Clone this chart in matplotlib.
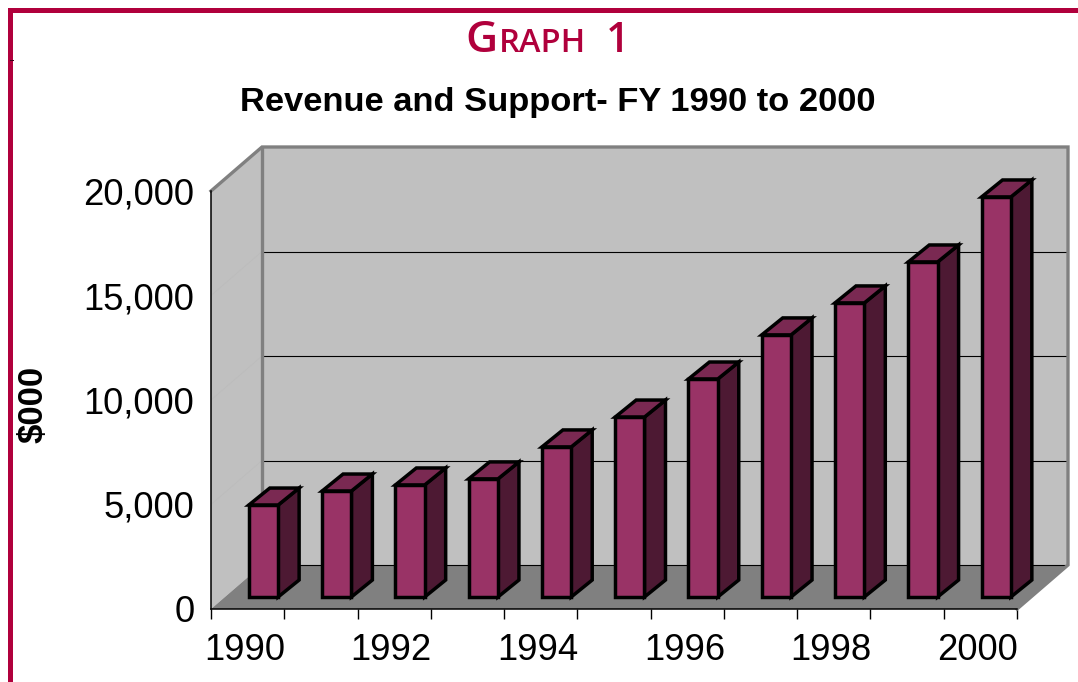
import matplotlib
matplotlib.use("Agg")
import matplotlib.pyplot as plt
from matplotlib.patches import Rectangle
from matplotlib.transforms import IdentityTransform

plt.rcParams['font.family'] = ['Liberation Sans', 'DejaVu Sans']

years = [1990, 1991, 1992, 1993, 1994, 1995, 1996, 1997, 1998, 1999, 2000]
revenue = [4400, 5070, 5360, 5650, 7180, 8610, 10430, 12540, 14070, 16030, 19140]
y_ticks = [0, 5000, 10000, 15000, 20000]

W, H = 1078, 682
CRIMSON = "#b0003c"
WALL = "#c0c0c0"
FLOOR = "#808080"
FRONT = "#993366"
SIDE = "#4d1933"
TOP = "#7a2952"

# oblique depth of the box, in category units and $000
DX = 51 / 73.27
DY = 44 / 418 * 20000
# bar depth and where it sits on the floor
BAR_W = 0.40
BAR_DX = 21 / 73.27
BAR_DY = 17 / 418 * 20000
BAR_OFF_X = 14 / 73.27 + 0.025
BAR_OFF_Y = 12 / 418 * 20000

fig = plt.figure(figsize=(W / 100, H / 100), dpi=100, facecolor="white")

# border
fig.add_artist(Rectangle((8, H - 13), W, 5, transform=IdentityTransform(), fc=CRIMSON, ec="none"))
fig.add_artist(Rectangle((8, 0), 5, H - 8, transform=IdentityTransform(), fc=CRIMSON, ec="none"))
fig.add_artist(Rectangle((10, H - 61), 4, 1, transform=IdentityTransform(), fc="#400018", ec="none"))

ax = fig.add_axes([211 / W, (H - 609) / H, (1068 - 211) / W, (609 - 147) / H])
ax.set_xlim(-0.5, 10.5 + DX)
ax.set_ylim(0, 20000 + DY)
ax.patch.set_visible(False)

x0, x1 = -0.5, 10.5

# walls and floor
ax.fill([x0 + DX, x1 + DX, x1 + DX, x0 + DX], [DY, DY, 20000 + DY, 20000 + DY],
        fc=WALL, ec="none", zorder=1)
ax.fill([x0, x0 + DX, x0 + DX, x0], [0, DY, 20000 + DY, 20000],
        fc=WALL, ec="none", zorder=1)
ax.fill([x0, x1, x1 + DX, x0 + DX], [0, 0, DY, DY], fc=FLOOR, ec="none", zorder=2)

for v in y_ticks[1:-1]:
    ax.plot([x0 + DX, x1 + DX], [v + DY, v + DY], color="black", lw=0.8, zorder=1.5,
            solid_capstyle="butt")
    ax.plot([x0, x0 + DX], [v, v + DY], color="#bcbcbc", lw=0.6, zorder=1.5)

ax.plot([x0 + DX, x1 + DX], [DY, DY], color="black", lw=0.8, zorder=2.5)

# wall outline
ax.plot([x0, x0 + DX, x1 + DX, x1 + DX, x1], [20000, 20000 + DY, 20000 + DY, DY, 0],
        color=FLOOR, lw=2.4, zorder=3, clip_on=False, solid_joinstyle="miter")
ax.plot([x0 + DX, x0 + DX], [DY, 20000 + DY], color=FLOOR, lw=2.4, zorder=1.6)

# bars
for i, val in enumerate(revenue):
    left = i - BAR_W / 2 + BAR_OFF_X
    right = left + BAR_W
    base = BAR_OFF_Y
    top = base + val
    z = 4 + i * 0.01
    ax.fill([right, right + BAR_DX, right + BAR_DX, right],
            [base, base + BAR_DY, top + BAR_DY, top],
            fc=SIDE, ec="black", lw=2.5, zorder=z, joinstyle="miter")
    ax.fill([left, right, right + BAR_DX, left + BAR_DX],
            [top, top, top + BAR_DY, top + BAR_DY],
            fc=TOP, ec="black", lw=2.5, zorder=z, joinstyle="miter")
    ax.bar(left + BAR_W / 2, val, width=BAR_W, bottom=base, color=FRONT,
           edgecolor="black", lw=2.5, zorder=z)

# axes
for s in ["top", "right"]:
    ax.spines[s].set_visible(False)
ax.spines["left"].set_bounds(0, 20000)
ax.spines["bottom"].set_bounds(x0, x1)
ax.spines["left"].set_linewidth(1.1)
ax.spines["bottom"].set_linewidth(1.1)
ax.spines["left"].set_zorder(3.5)
ax.spines["bottom"].set_zorder(3.5)

ax.set_yticks(y_ticks)
ax.set_yticklabels([f"{v:,}" for v in y_ticks], fontsize=26.2)
ax.tick_params(axis="y", length=0, pad=12)

ax.set_xticks([i - 0.5 for i in range(len(years) + 1)])
ax.set_xticklabels([])
ax.tick_params(axis="x", which="major", length=7, width=1.0, direction="out")
ax.set_xticks([i - 0.04 for i in range(0, len(years), 2)], minor=True)
ax.set_xticklabels([str(y) for y in years[::2]], minor=True, fontsize=26.2)
ax.tick_params(axis="x", which="minor", length=0, pad=17)

# titles
def px_text(x, y, s, **kw):
    return fig.text(x, H - y, s, transform=IdentityTransform(), **kw)

px_text(465, 52, "G", fontsize=32, color=CRIMSON, family="Open Sans", fontweight="semibold", va="baseline")
px_text(499, 52, "RAPH", fontsize=23.5, color=CRIMSON, family="Open Sans", fontweight="semibold", va="baseline")
px_text(606, 52, "1", fontsize=30, color=CRIMSON, family="Open Sans", fontweight="semibold", va="baseline")
px_text(558, 102, "Revenue and Support- FY 1990 to 2000", fontsize=24.8, fontweight="bold",
        ha="center", va="center")
px_text(33, 404, "$000", fontsize=25, fontweight="bold", rotation=90, ha="center", va="center")

fig.savefig("out.png", dpi=100)
